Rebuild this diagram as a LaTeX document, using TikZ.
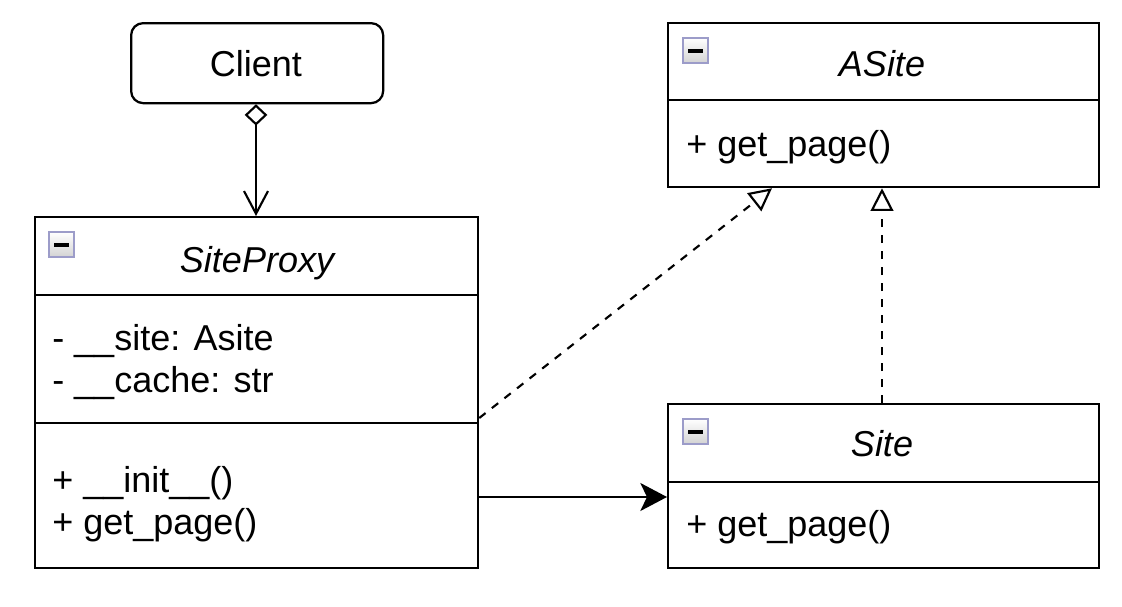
\documentclass[tikz,border=0pt]{standalone}
\usepackage{fontspec}
\setmainfont{Liberation Sans}
\usetikzlibrary{arrows.meta}
\begin{document}
\begin{tikzpicture}[x=0.75pt,y=-0.75pt,
  umlbox/.style={draw, line width=1.7pt, inner sep=0pt, anchor=north west},
  label/.style={inner sep=0pt, font=\fontsize{27}{32}\selectfont},
  title/.style={label, anchor=base, font=\fontsize{27}{32}\selectfont\itshape},
  member/.style={label, anchor=base west},
  conn/.style={line width=1.6pt},
  iconbox/.style={draw=gray!70!blue!60, line width=1.5pt, top color=white, bottom color=gray!35, minimum size=19pt, inner sep=0pt, anchor=north west}
]
\useasboundingbox (0,0) rectangle (1122,607);

% class boxes
\node[umlbox, rounded corners=9pt, minimum width=189pt, minimum height=60pt] (client) at (130,22) {};
\node[label, anchor=base] (clientname) at (256,76) {Client};

\node[umlbox, minimum width=323.25pt, minimum height=123pt] (asite) at (667,22) {};
\node[umlbox, minimum width=332.25pt, minimum height=263.25pt] (proxy) at (34,216) {};
\node[umlbox, minimum width=323.25pt, minimum height=123pt] (site) at (667,403) {};

% compartment dividers
\draw[line width=1.7pt] (asite.west |- 0,100) -- (asite.east |- 0,100);
\draw[line width=1.7pt] (proxy.west |- 0,295) -- (proxy.east |- 0,295);
\draw[line width=1.7pt] (proxy.west |- 0,423) -- (proxy.east |- 0,423);
\draw[line width=1.7pt] (site.west |- 0,482) -- (site.east |- 0,482);

% collapse icons
\foreach \nm/\x/\y in {iconA/682/37, iconP/48/231, iconS/682/418}{
  \node[iconbox] (\nm) at (\x,\y) {};
  \draw[line width=3pt] ([xshift=-5.5pt]\nm.center) -- ([xshift=5.5pt]\nm.center);
}

% titles
\node[title] (asitename) at (882,76) {ASite};
\node[title] (proxyname) at (257,272) {SiteProxy};
\node[title] (sitename) at (882,456) {Site};

% members
\node[member] (am1) at (686,156) {+ get\_page()};
\node[member] (pa1) at (52,350) {- \_\_site: Asite};
\node[member] (pa2) at (52,392) {- \_\_cache: str};
\node[member] (pm1) at (52,492) {+ \_\_init\_\_()};
\node[member] (pm2) at (52,534) {+ get\_page()};
\node[member] (sm1) at (686,536) {+ get\_page()};

% connectors
\draw[conn, {Diamond[open,length=16pt,width=17pt]}-{Straight Barb[length=17pt,width=18pt]}]
  (client.south -| 256,0) -- (proxy.north -| 256,0);
\draw[conn, dash pattern=on 6pt off 6pt, -{Triangle[open,length=17pt,width=17pt]}]
  (proxy.east |- 0,418) -- (asite.south -| 772,0);
\draw[conn, dash pattern=on 6pt off 6pt, -{Triangle[open,length=17pt,width=17pt]}]
  (site.north -| 882,0) -- (asite.south -| 882,0);
\draw[conn, -{Stealth[length=20pt,width=21pt,inset=5pt]}]
  (proxy.east |- 0,497) -- (site.west |- 0,497);
\end{tikzpicture}
\end{document}
